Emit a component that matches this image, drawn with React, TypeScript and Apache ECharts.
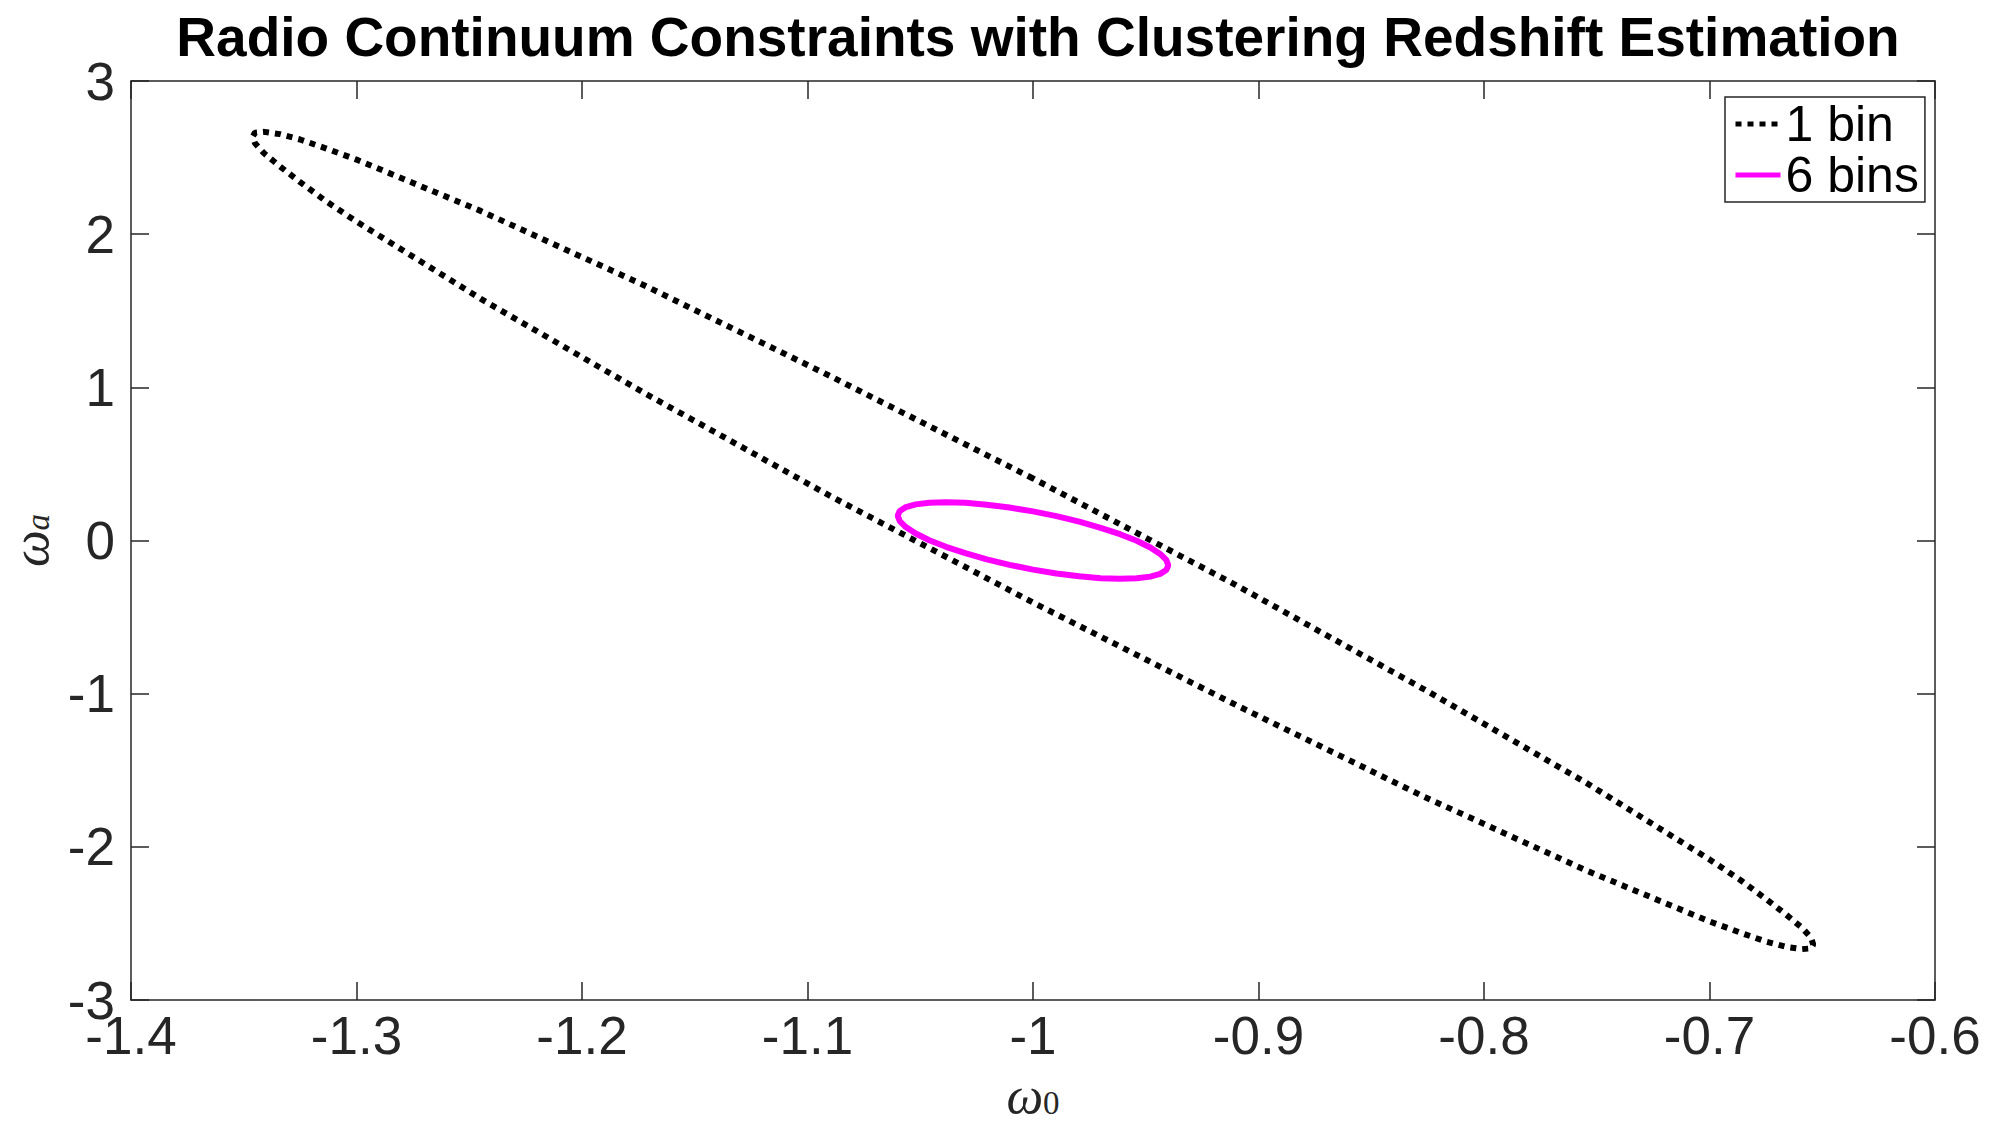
import React, { useEffect, useRef } from "react";
import * as echarts from "echarts";

const TITLE = "Radio Continuum Constraints with Clustering Redshift Estimation";
const X_TICKS = ["-1.4", "-1.3", "-1.2", "-1.1", "-1", "-0.9", "-0.8", "-0.7", "-0.6"];
const Y_TICKS = ["-3", "-2", "-1", "0", "1", "2", "3"];
const X_MIN = -1.4;
const X_MAX = -0.6;
const X_STEP = 0.1;
const Y_MIN = -3;
const Y_MAX = 3;
const Y_STEP = 1;
const SERIES_NAMES = ["1 bin", "6 bins"];

// 1 bin contour
const oneBinX = [
  -1.0, -1.09, -1.173, -1.245, -1.3, -1.314, -1.325, -1.334, -1.341, -1.345, -1.346,
  -1.345, -1.341, -1.334, -1.325, -1.314, -1.3, -1.245, -1.173, -1.09,
  -1.0, -0.91, -0.827, -0.755, -0.7, -0.686, -0.675, -0.666, -0.659, -0.655, -0.654,
  -0.655, -0.659, -0.666, -0.675, -0.686, -0.7, -0.755, -0.827, -0.91, -1.0,
];
const oneBinY = [
  0.405, 1.074, 1.67, 2.152, 2.487, 2.562, 2.618, 2.653, 2.668, 2.663, 2.638,
  2.593, 2.528, 2.443, 2.34, 2.22, 2.082, 1.579, 0.968, 0.291,
  -0.405, -1.074, -1.67, -2.152, -2.487, -2.562, -2.618, -2.653, -2.668, -2.663, -2.638,
  -2.593, -2.528, -2.443, -2.34, -2.22, -2.082, -1.579, -0.968, -0.291, 0.405,
];

// 6 bins contour
const sixBinsX = [
  -1.0, -1.0104, -1.0205, -1.03, -1.0386, -1.046, -1.052, -1.0564, -1.0591, -1.06,
  -1.0591, -1.0564, -1.052, -1.046, -1.0386, -1.03, -1.0205, -1.0104,
  -1.0, -0.9896, -0.9795, -0.97, -0.9614, -0.954, -0.948, -0.9436, -0.9409, -0.94,
  -0.9409, -0.9436, -0.948, -0.954, -0.9614, -0.97, -0.9795, -0.9896, -1.0,
];
const sixBinsY = [
  0.19, 0.215, 0.234, 0.246, 0.25, 0.247, 0.236, 0.218, 0.193, 0.1625,
  0.127, 0.088, 0.046, 0.002, -0.041, -0.083, -0.123, -0.159,
  -0.19, -0.215, -0.234, -0.246, -0.25, -0.247, -0.236, -0.218, -0.193, -0.1625,
  -0.127, -0.088, -0.046, -0.002, 0.041, 0.083, 0.123, 0.159, 0.19,
];

const AXIS_COLOR = "#262626";
const SANS = "'Liberation Sans', Arial, Helvetica, sans-serif";
const SERIF = "'Liberation Serif', 'DejaVu Serif', serif";

export default function App() {
  const ref = useRef<HTMLDivElement>(null);

  useEffect(() => {
    if (!ref.current) return;
    const chart = echarts.init(ref.current, undefined, { renderer: "svg" });

    const xFmt = (v: number) => X_TICKS[Math.round((v - X_MIN) / X_STEP)] ?? "";
    const yFmt = (v: number) => Y_TICKS[Math.round((v - Y_MIN) / Y_STEP)] ?? "";

    const baseAxis = {
      axisLine: { show: true, onZero: false, lineStyle: { color: AXIS_COLOR, width: 1.5 } },
      axisTick: { show: true, inside: true, length: 18, lineStyle: { color: AXIS_COLOR, width: 1.5 } },
      splitLine: { show: false },
    };

    const nameStyle = (subItalic: boolean) => ({
      rich: {
        w: { fontFamily: SERIF, fontStyle: "italic", fontSize: 52, lineHeight: 38, color: AXIS_COLOR },
        s: {
          fontFamily: SERIF,
          fontStyle: subItalic ? "italic" : "normal",
          fontSize: 33,
          lineHeight: 24,
          color: AXIS_COLOR,
          padding: [16, 0, 0, 0],
        },
      },
    });

    chart.setOption({
      animation: false,
      backgroundColor: "#ffffff",
      title: {
        text: TITLE,
        left: 1033,
        top: 4,
        textAlign: "center",
        textStyle: { fontFamily: SANS, fontWeight: "bold", fontSize: 55, color: "#000" },
      },
      grid: { left: 131, right: 60, top: 81, bottom: 123, outerBoundsMode: "none", containLabel: false },
      legend: {
        data: SERIES_NAMES,
        orient: "vertical",
        left: 1725,
        top: 97,
        itemWidth: 45,
        itemHeight: 6,
        itemGap: 1,
        padding: [2, 6, 2, 8],
        borderColor: AXIS_COLOR,
        borderWidth: 1.5,
        backgroundColor: "#ffffff",
        itemStyle: { opacity: 0 },
        lineStyle: { width: 5 },
        textStyle: { fontFamily: SANS, fontSize: 50, lineHeight: 46, color: "#000" },
      },
      xAxis: [
        {
          ...baseAxis,
          type: "value",
          min: X_MIN,
          max: X_MAX,
          interval: X_STEP,
          position: "bottom",
          axisLabel: {
            formatter: xFmt,
            fontFamily: SANS,
            fontSize: 53,
            lineHeight: 34,
            color: AXIS_COLOR,
            margin: 18,
          },
          name: "{w|ω}{s|0}",
          nameLocation: "middle",
          nameGap: 76,
          nameTextStyle: nameStyle(false),
        },
        {
          ...baseAxis,
          type: "value",
          min: X_MIN,
          max: X_MAX,
          interval: X_STEP,
          position: "top",
          axisLabel: { show: false },
        },
      ],
      yAxis: [
        {
          ...baseAxis,
          type: "value",
          min: Y_MIN,
          max: Y_MAX,
          interval: Y_STEP,
          position: "left",
          axisLabel: {
            formatter: yFmt,
            fontFamily: SANS,
            fontSize: 53,
            lineHeight: 34,
            color: AXIS_COLOR,
            margin: 16,
          },
          name: "{w|ω}{s|a}",
          nameLocation: "middle",
          nameRotate: 90,
          nameGap: 82,
          nameTextStyle: nameStyle(true),
        },
        {
          ...baseAxis,
          type: "value",
          min: Y_MIN,
          max: Y_MAX,
          interval: Y_STEP,
          position: "right",
          axisLabel: { show: false },
        },
      ],
      series: [
        {
          name: SERIES_NAMES[0],
          type: "line",
          symbol: "none",
          showSymbol: false,
          smooth: false,
          data: oneBinX.map((x, i) => [x, oneBinY[i]]),
          lineStyle: { color: "#000000", width: 6, type: [6, 6], cap: "butt" },
          itemStyle: { color: "#000000" },
          z: 2,
        },
        {
          name: SERIES_NAMES[1],
          type: "line",
          symbol: "none",
          showSymbol: false,
          smooth: false,
          data: sixBinsX.map((x, i) => [x, sixBinsY[i]]),
          lineStyle: { color: "#ff00ff", width: 6 },
          itemStyle: { color: "#ff00ff" },
          z: 3,
        },
      ],
    });

    return () => chart.dispose();
  }, []);

  return (
    <div
      ref={ref}
      style={{ position: "absolute", left: 0, top: 0, width: 1995, height: 1123, background: "#fff" }}
    />
  );
}
